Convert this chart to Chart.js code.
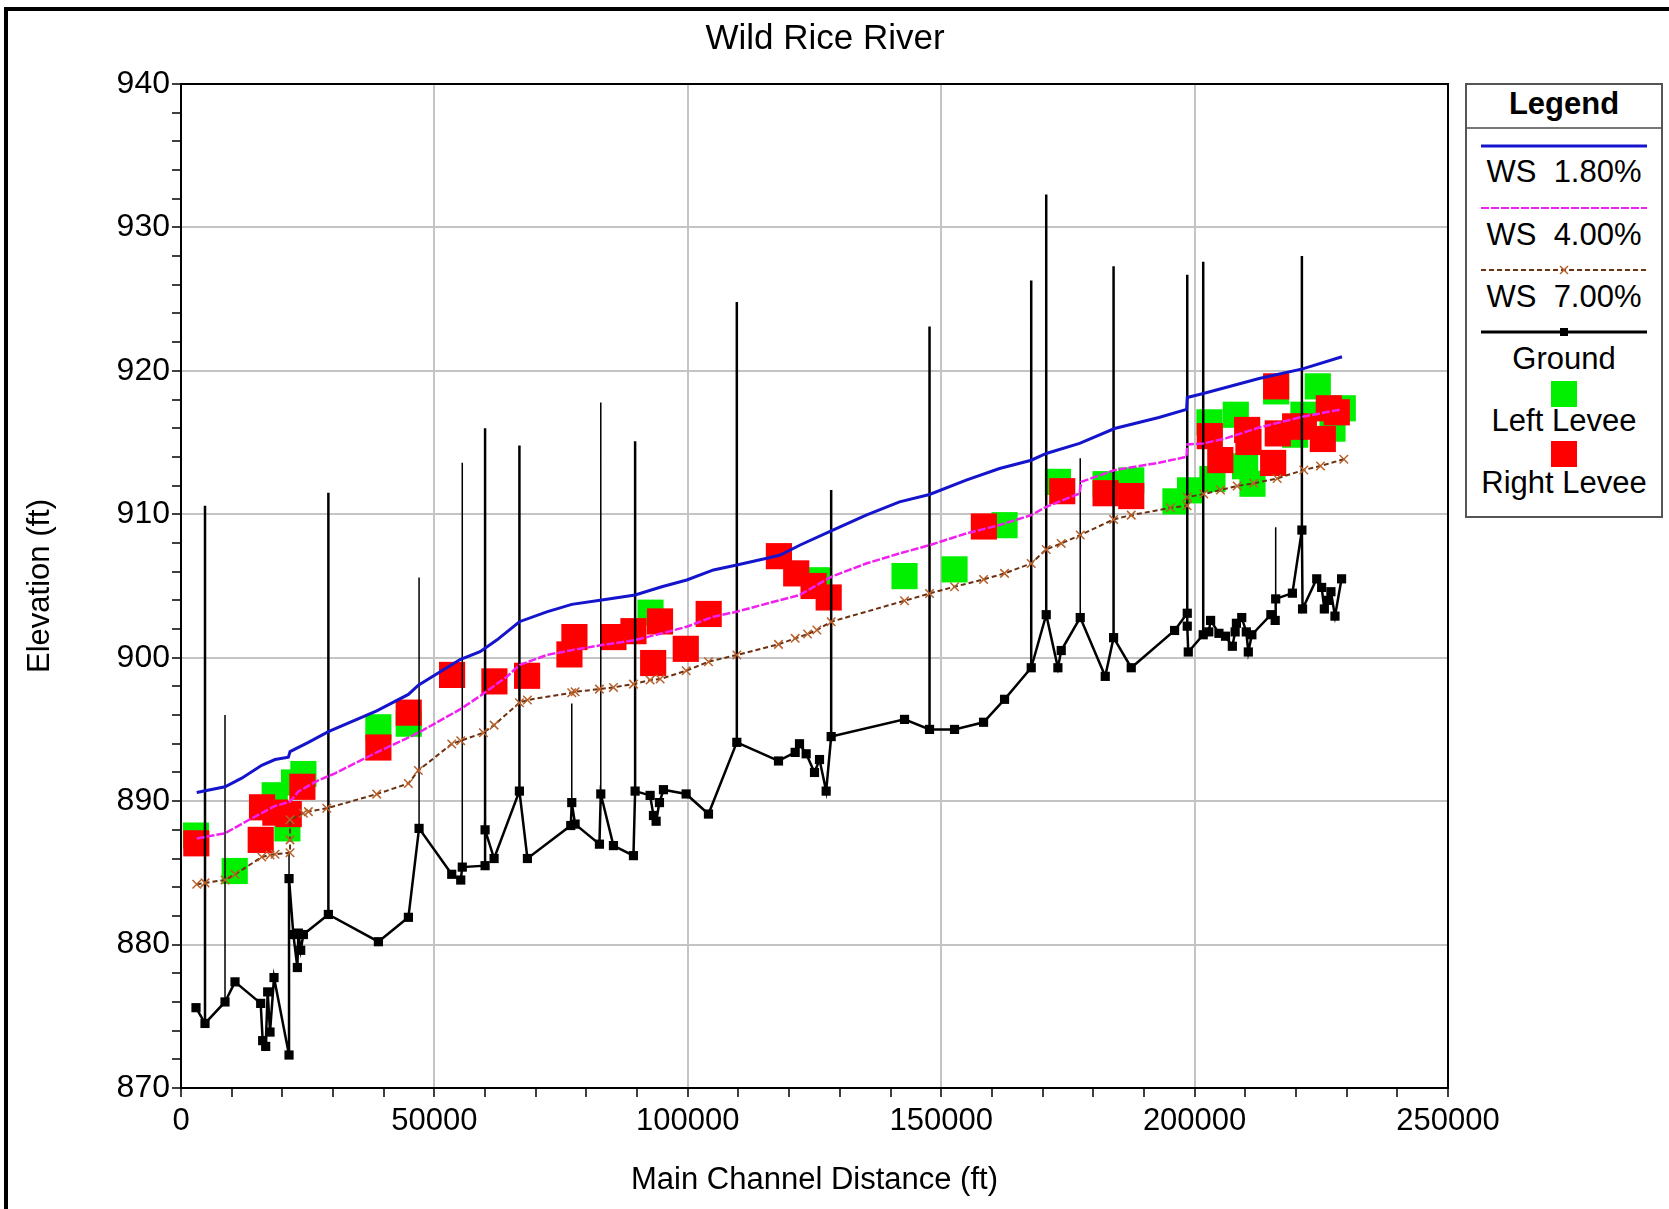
<!DOCTYPE html>
<html>
<head>
<meta charset="utf-8">
<script src="https://cdn.jsdelivr.net/npm/chart.js@4.4.1/dist/chart.umd.min.js"></script>
<style>
  html, body { margin: 0; padding: 0; background: #fff; overflow: hidden; }
  body { width: 1669px; height: 1209px; position: relative; font-family: 'Liberation Sans', Arial, sans-serif; }
  #cadre-page { position: absolute; left: 4px; top: 7px; width: 2000px; height: 2000px; border: 4px solid #000; pointer-events: none; }
  #graphique { position: absolute; left: 0; top: 0; }
  .texte { position: absolute; transform: translate(-50%, -50%); white-space: nowrap; color: #000; }
  #legende { position: absolute; left: 1465px; top: 83px; width: 194px; height: 431px; border: 2px solid #555; background: #fff; }
  #legende .item { position: absolute; left: 0; width: 194px; text-align: center; font-size: 31px; transform: translateY(-50%); }
  #legende .trait { position: absolute; left: 14px; width: 166px; }
  #legende .carre { position: absolute; left: 84px; width: 26px; height: 26px; }
</style>
</head>
<body>
<div id="cadre-page"></div>
<canvas id="graphique" width="1669" height="1209"></canvas>
<div class="texte" style="left:825px; top:37px; font-size:35px;">Wild Rice River</div>

<div id="legende">
  <div class="item" style="top:19px; font-weight:bold;">Legend</div>
  <div style="position:absolute; left:0; top:42px; width:194px; border-top:2px solid #777;"></div>
  <svg class="trait" style="top:56px;" height="10" width="166"><line x1="0" y1="5" x2="166" y2="5" stroke="#1414cc" stroke-width="3"/></svg>
  <div class="item" style="top:87px;">WS&nbsp;&nbsp;1.80%</div>
  <svg class="trait" style="top:118px;" height="10" width="166"><line x1="0" y1="5" x2="166" y2="5" stroke="#f020f0" stroke-width="2" stroke-dasharray="8 2"/></svg>
  <div class="item" style="top:150px;">WS&nbsp;&nbsp;4.00%</div>
  <svg class="trait" style="top:180px;" height="10" width="166"><line x1="0" y1="5" x2="166" y2="5" stroke="#6b3010" stroke-width="2" stroke-dasharray="5 3"/><path d="M79 1 L87 9 M87 1 L79 9" stroke="#b8602a" stroke-width="1.5"/></svg>
  <div class="item" style="top:212px;">WS&nbsp;&nbsp;7.00%</div>
  <svg class="trait" style="top:242px;" height="10" width="166"><line x1="0" y1="5" x2="166" y2="5" stroke="#000" stroke-width="3"/><rect x="79" y="1" width="8" height="8" fill="#000"/></svg>
  <div class="item" style="top:274px;">Ground</div>
  <div class="carre" style="top:296px; background:#00f000;"></div>
  <div class="item" style="top:336px;">Left Levee</div>
  <div class="carre" style="top:356px; background:#ff0000;"></div>
  <div class="item" style="top:398px;">Right Levee</div>
</div>

<script>
// ==================== DONNÉES ====================

// Lignes d'eau (distance en ft, élévation en ft)
const ws18X = [3100, 8690, 11980, 15930, 18555, 21190, 21515, 25130, 29080, 38618, 44868, 46842, 55066, 59013, 62300, 66776, 72170, 77105, 83026, 89605, 94868, 99800, 105066, 109671, 115592, 118224, 122171, 128290, 135197, 141776, 147697, 154934, 161513, 167763, 170724, 177303, 184211, 192942, 198417, 198549, 201715, 206134, 212730, 221305, 229088];
const ws18Y = [890.6, 891.0, 891.6, 892.5, 892.9, 893.06, 893.45, 894.1, 894.85, 896.3, 897.44, 898.08, 899.87, 900.42, 901.23, 902.51, 903.2, 903.72, 904.02, 904.37, 904.95, 905.42, 906.12, 906.47, 906.93, 907.16, 907.86, 908.85, 909.94, 910.87, 911.38, 912.38, 913.19, 913.77, 914.24, 914.94, 915.98, 916.75, 917.31, 918.14, 918.42, 918.84, 919.47, 920.14, 920.98];

const ws40X = [3100, 8690, 13950, 18555, 21515, 23160, 26790, 30400, 38618, 45855, 47500, 55066, 59013, 64276, 66776, 72170, 77105, 83026, 89605, 94868, 99800, 105066, 109671, 118224, 122039, 128290, 135197, 141776, 147697, 154934, 161513, 167763, 170724, 177303, 177632, 184211, 192942, 198417, 198549, 201715, 206134, 212730, 221305, 228890];
const ws40Y = [887.4, 887.76, 888.8, 889.66, 889.96, 890.67, 891.4, 891.94, 893.4, 894.6, 894.9, 896.4, 897.33, 898.67, 899.49, 900.19, 900.53, 900.88, 901.23, 901.7, 902.16, 902.86, 903.21, 904.02, 904.37, 905.64, 906.57, 907.27, 907.85, 908.66, 909.25, 909.94, 910.52, 911.45, 912.26, 913.08, 913.59, 914.01, 914.87, 914.94, 915.29, 916.05, 916.8, 917.31];

const ws70X = [3100, 4740, 8690, 10660, 15930, 17570, 18555, 21515, 21515, 21515, 24150, 25130, 28760, 38618, 44868, 46842, 53421, 55197, 59671, 61776, 66776, 68355, 77105, 77763, 82566, 85329, 89276, 92566, 94540, 99671, 104079, 109671, 117895, 121184, 123618, 125460, 128290, 142763, 147697, 152632, 158355, 162500, 167763, 170724, 173684, 177434, 184013, 187500, 195230, 198520, 198549, 201810, 205100, 208390, 211670, 216290, 221550, 224840, 229450];
const ws70Y = [884.2, 884.3, 884.5, 884.9, 886.1, 886.25, 886.3, 886.4, 887.3, 888.7, 889.15, 889.27, 889.5, 890.49, 891.23, 892.14, 893.99, 894.21, 894.77, 895.3, 896.86, 897.05, 897.56, 897.63, 897.81, 897.93, 898.16, 898.44, 898.51, 899.09, 899.72, 900.19, 900.93, 901.35, 901.65, 901.93, 902.51, 903.97, 904.48, 904.95, 905.46, 905.88, 906.57, 907.55, 907.97, 908.55, 909.64, 909.94, 910.45, 910.6, 911.2, 911.41, 911.69, 911.97, 912.16, 912.5, 913.09, 913.37, 913.84];

// Fond du lit (Ground)
const solX = [2960, 4737, 8684, 10658, 15724, 16118, 16710, 17105, 17566, 18355, 21316, 21316, 22171, 22961, 23158, 23619, 24145, 29079, 38947, 44868, 46974, 53421, 55197, 55500, 60000, 60000, 61776, 66776, 68355, 76908, 77105, 77763, 82566, 82829, 85329, 89276, 89605, 92566, 93224, 93750, 94408, 95197, 99671, 104079, 109671, 117895, 121184, 122039, 123355, 125000, 125987, 127303, 128289, 142763, 147697, 152632, 158355, 162500, 167763, 170724, 173026, 173684, 177434, 182368, 184013, 187500, 196053, 198550, 198550, 198750, 201700, 202800, 203160, 204800, 206100, 207450, 208000, 208250, 209300, 210200, 210600, 211300, 215050, 215900, 216000, 219300, 221170, 221300, 224100, 225070, 225600, 226250, 226900, 227700, 229000];
const solY = [875.6, 874.5, 876.0, 877.4, 875.9, 873.3, 872.9, 876.7, 873.9, 877.7, 872.3, 884.6, 880.7, 878.4, 880.8, 879.6, 880.7, 882.1, 880.2, 881.9, 888.1, 884.9, 884.5, 885.4, 885.5, 888.0, 886.0, 890.7, 886.0, 888.3, 889.9, 888.4, 887.0, 890.5, 886.9, 886.2, 890.7, 890.4, 889.0, 888.6, 889.9, 890.8, 890.5, 889.1, 894.1, 892.8, 893.4, 894.0, 893.3, 892.0, 892.9, 890.7, 894.5, 895.7, 895.0, 895.0, 895.5, 897.1, 899.3, 903.0, 899.3, 900.5, 902.8, 898.7, 901.4, 899.3, 901.9, 903.1, 902.2, 900.4, 901.6, 901.8, 902.6, 901.7, 901.5, 900.8, 901.8, 902.4, 902.8, 901.8, 900.4, 901.6, 903.0, 902.6, 904.1, 904.5, 908.9, 903.4, 905.5, 904.9, 903.4, 904.0, 904.6, 902.9, 905.5];

// Traits verticaux du fond (station, bas, haut) : épais puis fins
const traitsEpaisX = [4737, 29079, 60000, 66776, 89605, 109671, 128289, 147697, 167763, 170724, 184013, 198550, 201700, 221170];
const traitsEpaisBas = [874.5, 882.1, 888.0, 890.7, 890.7, 894.1, 894.5, 895.0, 899.3, 903.0, 901.4, 903.1, 901.6, 908.9];
const traitsEpaisHaut = [910.6, 911.5, 916.0, 914.8, 915.1, 924.8, 911.7, 923.1, 926.3, 932.3, 927.3, 926.7, 927.6, 928.0];
const traitsFinsX = [8684, 21316, 46974, 55500, 77105, 82829, 177434, 216000];
const traitsFinsBas = [876.0, 884.6, 888.1, 885.4, 889.9, 890.5, 902.8, 904.1];
const traitsFinsHaut = [896.0, 886.4, 905.6, 913.6, 896.8, 917.8, 913.9, 909.1];

// Digues
const digueGaucheX = [2960, 10600, 18490, 20990, 22300, 24150, 38947, 44934, 92640, 125500, 142763, 152632, 162500, 173026, 182434, 187500, 196220, 199110, 203520, 202930, 208130, 209960, 211420, 216090, 219840, 221480, 224310, 227210, 229240];
const digueGaucheY = [887.6, 885.13, 890.41, 888.1, 891.3, 891.89, 895.15, 895.4, 903.14, 905.4, 905.69, 906.16, 909.24, 912.26, 912.1, 912.36, 910.9, 911.67, 912.46, 916.41, 916.94, 913.35, 912.13, 918.57, 915.55, 916.94, 918.92, 915.97, 917.39];
const digueDroiteX = [3020, 15990, 15730, 18620, 21260, 23950, 38947, 44934, 53487, 61842, 68290, 76645, 77631, 85329, 89276, 94515, 93165, 99600, 104120, 117975, 121390, 124820, 127800, 158421, 173882, 182434, 187500, 203000, 205070, 210370, 210630, 215500, 216410, 216090, 219840, 221550, 225300, 226480, 228060];
const digueDroiteY = [887.06, 889.57, 887.3, 889.2, 889.1, 891.0, 893.74, 896.17, 898.8, 898.35, 898.74, 900.23, 901.44, 901.44, 901.85, 902.53, 899.63, 900.62, 903.05, 907.08, 905.88, 905.0, 904.2, 909.15, 911.61, 911.47, 911.27, 915.45, 913.78, 915.88, 915.04, 913.58, 915.64, 918.92, 916.13, 916.11, 915.25, 917.39, 917.11];

// Axes
const X_MIN = 0, X_MAX = 250000, X_PAS = 10000, X_ETIQUETTE = 50000;
const Y_MIN = 870, Y_MAX = 940, Y_PAS = 2, Y_ETIQUETTE = 10;

// ==================== GRAPHIQUE ====================

function enPoints(xs, ys) {
  return xs.map((x, i) => ({ x: x, y: ys[i] }));
}

// Chaque trait vertical = 2 points, séparés par un trou (y null)
function enTraits(xs, bas, haut) {
  const points = [];
  xs.forEach((x, i) => {
    points.push({ x: x, y: bas[i] }, { x: x, y: haut[i] }, { x: x, y: null });
  });
  return points;
}

const cadre = {
  id: 'cadre',
  beforeDatasetsDraw(chart) {
    const { ctx, chartArea: a } = chart;
    ctx.save();
    ctx.strokeStyle = '#000';
    ctx.lineWidth = 2;
    ctx.strokeRect(a.left, a.top, a.right - a.left, a.bottom - a.top);
    ctx.restore();
  }
};

Chart.defaults.font.family = "'Liberation Sans', Arial, sans-serif";
Chart.defaults.color = '#000';

const ligne = { showLine: true, spanGaps: false, fill: false, tension: 0 };

new Chart(document.getElementById('graphique'), {
  type: 'scatter',
  data: {
    datasets: [
      Object.assign({ label: 'WS 1.80%', data: enPoints(ws18X, ws18Y), borderColor: '#1414cc', borderWidth: 3, pointRadius: 0, order: 0 }, ligne),
      Object.assign({ label: 'WS 4.00%', data: enPoints(ws40X, ws40Y), borderColor: '#f020f0', borderWidth: 2.5, borderDash: [8, 2], pointRadius: 0, order: 1 }, ligne),
      Object.assign({ label: 'WS 7.00%', data: enPoints(ws70X, ws70Y), borderColor: '#6b3010', borderWidth: 2, borderDash: [5, 3], pointStyle: 'crossRot', pointRadius: 6, pointBorderColor: '#b8602a', pointBorderWidth: 1.5, order: 2 }, ligne),
      Object.assign({ label: 'Ground', data: enPoints(solX, solY), borderColor: '#000', borderWidth: 2.5, pointStyle: 'rect', pointRadius: 6.5, pointBackgroundColor: '#000', pointBorderWidth: 0, order: 3 }, ligne),
      Object.assign({ label: 'traits', data: enTraits(traitsEpaisX, traitsEpaisBas, traitsEpaisHaut), borderColor: '#000', borderWidth: 2.5, pointRadius: 0, order: 3 }, ligne),
      Object.assign({ label: 'traits fins', data: enTraits(traitsFinsX, traitsFinsBas, traitsFinsHaut), borderColor: '#000', borderWidth: 1.5, pointRadius: 0, order: 3 }, ligne),
      { label: 'Right Levee', data: enPoints(digueDroiteX, digueDroiteY), pointStyle: 'rect', pointRadius: 18.5, pointBackgroundColor: '#ff0000', pointBorderWidth: 0, showLine: false, order: 5 },
      { label: 'Left Levee', data: enPoints(digueGaucheX, digueGaucheY), pointStyle: 'rect', pointRadius: 18.5, pointBackgroundColor: '#00f000', pointBorderWidth: 0, showLine: false, order: 6 }
    ]
  },
  options: {
    responsive: false,
    animation: false,
    devicePixelRatio: 1,
    layout: { padding: { left: 0, right: 221, top: 84, bottom: 0 } },
    plugins: { legend: { display: false }, title: { display: false }, tooltip: { enabled: false } },
    elements: { point: { hoverRadius: 0 } },
    scales: {
      x: {
        type: 'linear', min: X_MIN, max: X_MAX,
        border: { display: false },
        grid: {
          color: c => (c.tick && c.tick.value % X_ETIQUETTE === 0) ? '#c4c4c4' : 'transparent',
          lineWidth: 2, tickColor: '#000', tickWidth: 1.5, tickLength: 9
        },
        ticks: {
          stepSize: X_PAS, autoSkip: false, maxRotation: 0, padding: 6,
          font: { size: 31 },
          callback: v => (v % X_ETIQUETTE === 0 ? String(v) : '')
        },
        title: { display: true, text: 'Main Channel Distance (ft)', font: { size: 31 }, padding: { top: 0, bottom: 10 } },
        afterFit(scale) { scale.height = 121; }
      },
      y: {
        type: 'linear', min: Y_MIN, max: Y_MAX,
        border: { display: false },
        grid: {
          color: c => (c.tick && c.tick.value % Y_ETIQUETTE === 0) ? '#c4c4c4' : 'transparent',
          lineWidth: 2, tickColor: '#000', tickWidth: 1.5, tickLength: 9
        },
        ticks: {
          stepSize: Y_PAS, autoSkip: false, padding: 2,
          font: { size: 32 },
          callback: v => (v % Y_ETIQUETTE === 0 ? String(v) : '')
        },
        title: { display: true, text: 'Elevation (ft)', font: { size: 31 }, padding: { top: 22, bottom: 0 } },
        afterFit(scale) { scale.width = 181; }
      }
    }
  },
  plugins: [cadre]
});
</script>
</body>
</html>
